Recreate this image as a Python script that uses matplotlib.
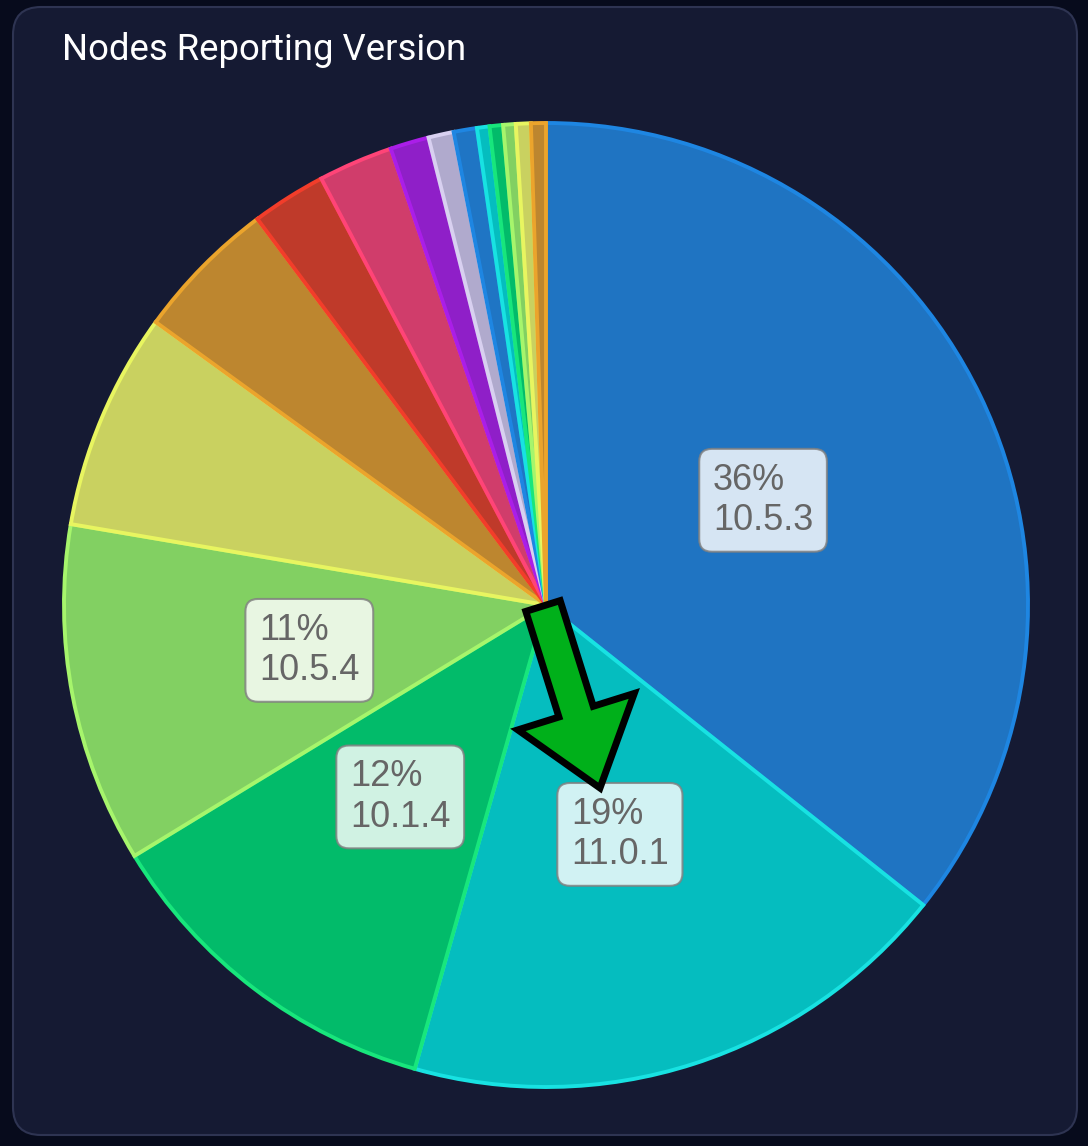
import numpy as np
import matplotlib
matplotlib.use("Agg")
import matplotlib.pyplot as plt
from matplotlib.patches import FancyBboxPatch, FancyArrow

# share of nodes per version (clockwise from 12 o'clock)
versions = ["10.5.3", "11.0.1", "10.1.4", "10.5.4", "", "", "", "", "", "", "", "", "", "", "", ""]
shares = [35.7, 18.7, 11.9, 11.4, 7.3, 4.8, 2.5, 2.5, 1.3, 0.85, 0.78, 0.42, 0.45, 0.42, 0.5, 0.5]

fills = ["#1f74c2", "#05bdbf", "#02bb6a", "#82d062", "#c9d160", "#bd862f", "#bf3a2a", "#d03d6b",
         "#8f1fc8", "#b0aacd", "#1f75c4", "#05bdbf", "#02bb6a", "#82d062", "#c9d160", "#bd862f"]
edges = ["#1e86e2", "#18e2e2", "#18e67c", "#a6f56c", "#e8f560", "#eba42c", "#f23d2a", "#ff4477",
         "#aa1ee8", "#d8d0f0", "#1e86e2", "#18e2e2", "#18e67c", "#a6f56c", "#e8f560", "#eba42c"]

W, H = 1088, 1146
fig = plt.figure(figsize=(W / 100, H / 100), dpi=100)
fig.patch.set_facecolor("#070b1c")

# background panel
bg = fig.add_axes([0, 0, 1, 1])
bg.set_xlim(0, W)
bg.set_ylim(H, 0)
bg.axis("off")
bg.add_patch(FancyBboxPatch((13, 7), 1064, 1128, boxstyle="round,pad=0,rounding_size=28",
                            facecolor="#151a33", edgecolor="#2e3452", linewidth=1.5))
bg.text(62, 60, "Nodes Reporting Version", color="white", fontsize=26.3,
        family="Roboto", ha="left", va="baseline")

# pie: centre (546,605) px, radius 482 px
cx, cy, r = 546, 605, 482
ax = fig.add_axes([(cx - r) / W, (H - cy - r) / H, 2 * r / W, 2 * r / H])
wedges, _ = ax.pie(shares, colors=fills, startangle=90, counterclock=False,
                   wedgeprops=dict(linewidth=2.8))
for w, ec in zip(wedges, edges):
    w.set_edgecolor(ec)
ax.set_xlim(-1, 1)
ax.set_ylim(-1, 1)
ax.axis("off")

total = sum(shares)
for w, v, name in zip(wedges, shares, versions):
    pct = v / total * 100
    if pct < 10:
        continue
    mid = np.deg2rad((w.theta1 + w.theta2) / 2)
    ax.text(0.5 * np.cos(mid), 0.5 * np.sin(mid), f"{pct:.0f}%\n{name}",
            ha="center", va="center", multialignment="left", fontsize=26,
            family="Liberation Sans", color="#666666", linespacing=1.2,
            bbox=dict(boxstyle="round,pad=0.38,rounding_size=0.35", facecolor="white",
                      alpha=0.82, edgecolor="#808080", linewidth=1.5))

# green arrow pointing at the 11.0.1 slice
top = fig.add_axes([0, 0, 1, 1], zorder=5)
top.set_xlim(0, W)
top.set_ylim(H, 0)
top.axis("off")
top.patch.set_alpha(0)
top.add_patch(FancyArrow(543, 606, 57, 182, width=36, head_width=122, head_length=80,
                         length_includes_head=True, facecolor="#00b01a", edgecolor="black",
                         linewidth=5, joinstyle="miter"))

fig.savefig("out.png", dpi=100, facecolor=fig.get_facecolor())
